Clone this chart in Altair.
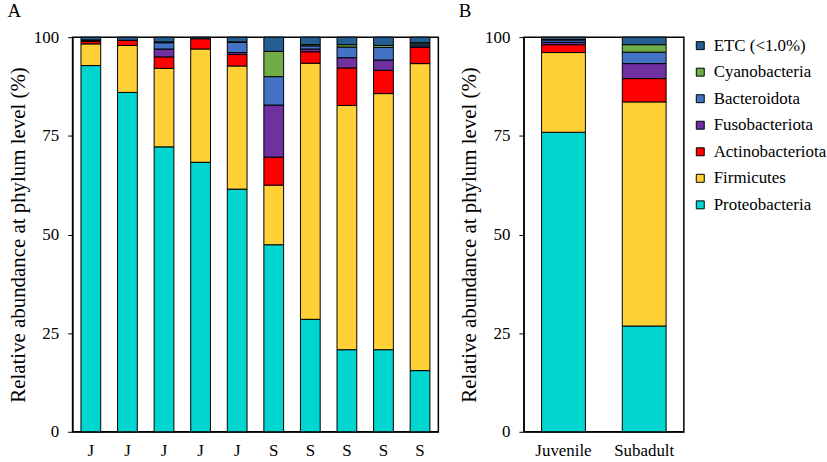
import altair as alt
import pandas as pd

# ---- data ----
phyla = ["ETC (<1.0%)", "Cyanobacteria", "Bacteroidota", "Fusobacteriota",
         "Actinobacteriota", "Firmicutes", "Proteobacteria"]
colors = ["#255E91", "#70AD47", "#4472C4", "#7030A0", "#FF0000", "#FFD137", "#00D5D0"]

samples_A = ["J1", "J2", "J3", "J4", "J5", "S1", "S2", "S3", "S4", "S5"]
proteo_A = [92.8, 86.0, 72.2, 68.3, 61.5, 47.4, 28.5, 20.8, 20.8, 15.5]
firm_A   = [5.5, 11.9, 19.9, 28.7, 31.2, 15.1, 64.9, 61.9, 64.9, 77.8]
actino_A = [0.6, 1.3, 2.9, 2.6, 2.9, 7.1, 2.9, 9.5, 5.9, 4.1]
fuso_A   = [0.1, 0.0, 2.0, 0.0, 0.5, 13.2, 0.7, 2.6, 2.6, 0.4]
bact_A   = [0.2, 0.0, 1.6, 0.0, 2.6, 7.2, 0.8, 2.7, 3.2, 0.5]
cyano_A  = [0.1, 0.0, 0.2, 0.0, 0.1, 6.4, 0.3, 0.6, 0.5, 0.3]
etc_A    = [0.7, 0.8, 1.2, 0.4, 1.2, 3.6, 1.9, 1.9, 2.1, 1.4]

groups_B = ["Juvenile", "Subadult"]
proteo_B = [75.9, 26.8]
firm_B   = [20.2, 56.8]
actino_B = [2.0, 5.9]
fuso_B   = [0.6, 3.8]
bact_B   = [0.6, 2.9]
cyano_B  = [0.1, 1.9]
etc_B    = [0.6, 1.9]


def make_table(cats, series):
    rows = []
    for name, vals in series.items():
        for c, v in zip(cats, vals):
            if v > 0:
                rows.append({"cat": c, "phylum": name, "value": v,
                             "rank": phyla[::-1].index(name)})
    return pd.DataFrame(rows)


series_A = {"Proteobacteria": proteo_A, "Firmicutes": firm_A, "Actinobacteriota": actino_A,
            "Fusobacteriota": fuso_A, "Bacteroidota": bact_A, "Cyanobacteria": cyano_A,
            "ETC (<1.0%)": etc_A}
series_B = {"Proteobacteria": proteo_B, "Firmicutes": firm_B, "Actinobacteriota": actino_B,
            "Fusobacteriota": fuso_B, "Bacteroidota": bact_B, "Cyanobacteria": cyano_B,
            "ETC (<1.0%)": etc_B}

dfA = make_table(samples_A, series_A)
dfB = make_table(groups_B, series_B)

FONT = "Liberation Serif"

color = alt.Color("phylum:N", scale=alt.Scale(domain=phyla, range=colors),
                  legend=alt.Legend(title=None, symbolType="square", symbolSize=64,
                                    symbolStrokeColor="black", symbolStrokeWidth=1,
                                    labelFontSize=17, labelFont=FONT, labelColor="black",
                                    rowPadding=8.7, labelOffset=5, padding=0,
                                    orient="right", offset=7))

ytitle = "Relative abundance at phylum level (%)"


def yenc():
    return alt.Y("value:Q", stack="zero",
                 scale=alt.Scale(domain=[0, 100], nice=False),
                 axis=alt.Axis(title=ytitle, values=[0, 25, 50, 75, 100], grid=False,
                               tickSize=5, tickColor="black", domainColor="black",
                               labelPadding=9, titlePadding=5,
                               titleFont=FONT, labelFont=FONT))


def title(t):
    return alt.Title(t, anchor="start", frame="bounds", fontSize=19, font=FONT,
                     fontWeight="normal", offset=7, color="black")


chartA = alt.Chart(dfA, title=title("A")).mark_bar(
    stroke="black", strokeWidth=1).encode(
    x=alt.X("cat:N", sort=samples_A, scale=alt.Scale(paddingInner=0.46, paddingOuter=0.23),
            axis=alt.Axis(title=None, labelAngle=0, ticks=False, domainColor="black",
                          labelExpr="substring(datum.label, 0, 1)", labelPadding=11,
                          labelFont=FONT)),
    y=yenc(),
    color=color,
    order=alt.Order("rank:Q", sort="ascending"),
).properties(width=368, height=397)

chartB = alt.Chart(dfB, title=title("B")).mark_bar(
    stroke="black", strokeWidth=1).encode(
    x=alt.X("cat:N", sort=groups_B, scale=alt.Scale(paddingInner=0.457, paddingOuter=0.22),
            axis=alt.Axis(title=None, labelAngle=0, ticks=False, domainColor="black",
                          labelPadding=11, labelFont=FONT)),
    y=yenc(),
    color=color,
    order=alt.Order("rank:Q", sort="ascending"),
).properties(width=161, height=397)

chart = alt.hconcat(chartA, chartB, spacing=18).configure(
    padding={"left": 6, "top": 0, "right": 0, "bottom": 0},
    background="white", font=FONT
).configure_view(
    stroke="black", strokeWidth=1.5
).configure_axis(
    labelFont=FONT, titleFont=FONT, labelFontSize=17, titleFontSize=21,
    labelColor="black", titleColor="black", titleFontWeight="normal"
).configure_legend(labelFont=FONT)

chart.save("out.html", embed_options={"renderer": "svg", "actions": False})
